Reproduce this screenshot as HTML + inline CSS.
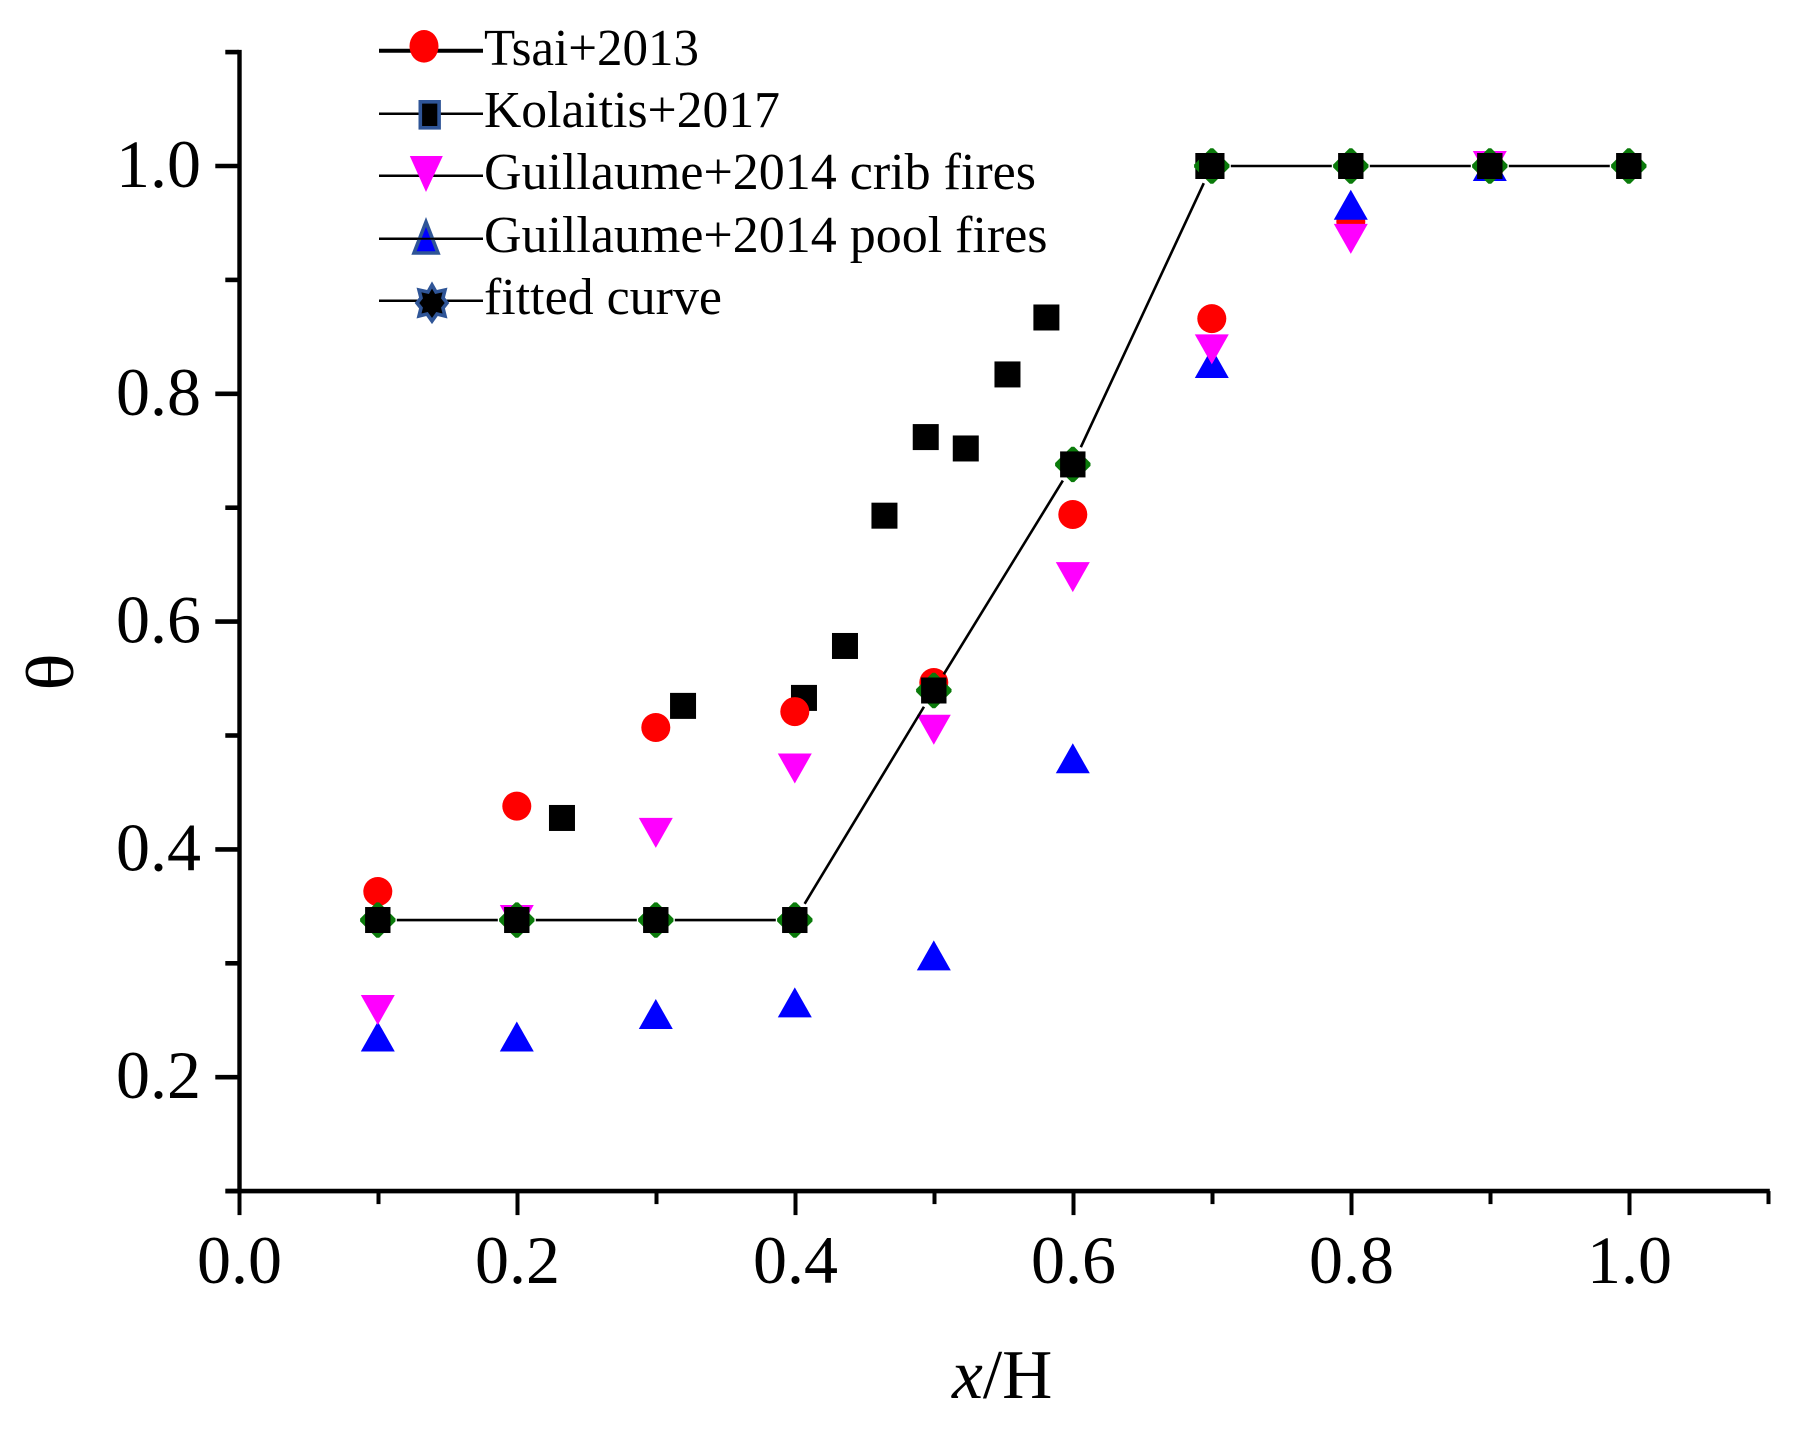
<!DOCTYPE html>
<html lang="en">
<head>
<meta charset="utf-8">
<title>Theta vs x/H chart</title>
<style>
html,body{margin:0;padding:0;background:#fff;}
svg{display:block;}
text{font-family:"Liberation Serif","Times New Roman",serif;fill:#000;}
</style>
</head>
<body>
<svg id="chart" xmlns="http://www.w3.org/2000/svg" width="1796" height="1431" viewBox="0 0 1796 1431">
<rect x="0" y="0" width="1796" height="1431" fill="#fff"/>
<g id="series"></g>
<g id="axes"></g>
<text x="952" y="1398" font-size="69.5"><tspan font-style="italic">x</tspan>/H</text>
<text x="0" y="0" font-size="68" text-anchor="middle" transform="translate(73,672) rotate(-90) scale(1.15,1)">θ</text>
<g id="legend">
  <g>
    <line x1="379" y1="50.7" x2="483" y2="50.7" stroke="#000" stroke-width="4"/>
    <ellipse cx="424" cy="46.3" rx="14.5" ry="16.3" fill="#ff0000"/>
    <text x="484" y="65" font-size="52" textLength="215" lengthAdjust="spacingAndGlyphs">Tsai+2013</text>
  </g>
  <g>
    <line x1="379" y1="113.7" x2="483" y2="113.7" stroke="#000" stroke-width="2.5"/>
    <rect x="420.3" y="101.8" width="18.8" height="26" fill="#000" stroke="#2f5597" stroke-width="3.6"/>
    <text x="484" y="127" font-size="52" textLength="296" lengthAdjust="spacingAndGlyphs">Kolaitis+2017</text>
  </g>
  <g>
    <line x1="379" y1="175.7" x2="483" y2="175.7" stroke="#000" stroke-width="2.5"/>
    <polygon points="409.8,156 442.8,156 426,192" fill="#ff00ff"/>
    <text x="484" y="189" font-size="52" textLength="552" lengthAdjust="spacingAndGlyphs">Guillaume+2014 crib fires</text>
  </g>
  <g>
    <line x1="379" y1="238.7" x2="483" y2="238.7" stroke="#000" stroke-width="2.5"/>
    <polygon points="426,222 438,253 414,253" fill="#0000ff" stroke="#2f5597" stroke-width="3.6"/>
    <line x1="412" y1="238.7" x2="440" y2="238.7" stroke="#000" stroke-width="2"/>
    <text x="484" y="252" font-size="52" textLength="563.5" lengthAdjust="spacingAndGlyphs">Guillaume+2014 pool fires</text>
  </g>
  <g>
    <line x1="379" y1="300.7" x2="483" y2="300.7" stroke="#000" stroke-width="2.5"/>
    <polygon points="432,285 436,292 445,290 443,298 447,303 443,308 445,316 437,314 432,321 427,314 419,316 421,308 417,303 421,298 419,290 428,292" fill="#000" stroke="#2f5597" stroke-width="3.6"/>
    <text x="484" y="314" font-size="52" textLength="238" lengthAdjust="spacingAndGlyphs">fitted curve</text>
  </g>
</g>
</svg>
<script>
const xTickValues = [0, 0.2, 0.4, 0.6, 0.8, 1.0];
const xTickLabels = ['0.0', '0.2', '0.4', '0.6', '0.8', '1.0'];
const xMinorValues = [0.1, 0.3, 0.5, 0.7, 0.9, 1.1];
const yTickValues = [0.2, 0.4, 0.6, 0.8, 1.0];
const yTickLabels = ['0.2', '0.4', '0.6', '0.8', '1.0'];
const yMinorValues = [0.1, 0.3, 0.5, 0.7, 0.9, 1.1];

const gridX = [0.1, 0.2, 0.3, 0.4, 0.5, 0.6, 0.7, 0.8, 0.9, 1.0];
const tsaiY = [0.363, 0.438, 0.507, 0.521, 0.5465, 0.694, 0.866, 0.951, 1.0];
const cribY = [0.259, 0.338, 0.4145, 0.471, 0.505, 0.639, 0.839, 0.936, 1.0];
const poolY = [0.2357, 0.2357, 0.2555, 0.2657, 0.307, 0.48, 0.827, 0.966, 1.0];
const fittedY = [0.338, 0.338, 0.338, 0.338, 0.5395, 0.738, 1.0, 1.0, 1.0, 1.0];
const kolaitisX = [0.2325, 0.3196, 0.4066, 0.4361, 0.4645, 0.4942, 0.523, 0.553, 0.581, 0.6975];
const kolaitisY = [0.4276, 0.526, 0.533, 0.5786, 0.693, 0.762, 0.752, 0.817, 0.867, 1.0];

const SVG_NS = 'http://www.w3.org/2000/svg';
function sx(v) { return 238.8 + 1390 * v; }
function sy(v) { return 166 + (1 - v) * 1139; }
function mk(parent, tag, attrs) {
  const el = document.createElementNS(SVG_NS, tag);
  for (const k in attrs) el.setAttribute(k, attrs[k]);
  parent.appendChild(el);
  return el;
}

const seriesG = document.getElementById('series');
const axesG = document.getElementById('axes');

/* Kolaitis squares */
kolaitisX.forEach(function (xv, i) {
  const el = mk(seriesG, 'rect', { x: sx(xv) - 13, y: sy(kolaitisY[i]) - 13, width: 26, height: 26, fill: '#000' });
  
  
});

/* Tsai circles */
tsaiY.forEach(function (yv, i) {
  const el = mk(seriesG, 'circle', { cx: sx(gridX[i]), cy: sy(yv), r: 14.5, fill: '#ff0000' });
  
  
});

/* Pool fire triangles */
poolY.forEach(function (yv, i) {
  const cx = sx(gridX[i]), cy = sy(yv);
  const el = mk(seriesG, 'polygon', { points: (cx) + ',' + (cy - 15) + ' ' + (cx + 17) + ',' + (cy + 15) + ' ' + (cx - 17) + ',' + (cy + 15), fill: '#0000ff' });
  
  
});

/* Crib fire triangles */
cribY.forEach(function (yv, i) {
  const cx = sx(gridX[i]), cy = sy(yv);
  const el = mk(seriesG, 'polygon', { points: (cx - 17) + ',' + (cy - 15) + ' ' + (cx + 17) + ',' + (cy - 15) + ' ' + (cx) + ',' + (cy + 15), fill: '#ff00ff' });
  
  
});

/* Fitted line segments with gaps around markers */
for (let i = 0; i < gridX.length - 1; i++) {
  const x1 = sx(gridX[i]), y1 = sy(fittedY[i]), x2 = sx(gridX[i + 1]), y2 = sy(fittedY[i + 1]);
  const len = Math.hypot(x2 - x1, y2 - y1);
  const ux = (x2 - x1) / len, uy = (y2 - y1) / len;
  const gap = 19;
  const el = mk(seriesG, 'line', { x1: x1 + ux * gap, y1: y1 + uy * gap, x2: x2 - ux * gap, y2: y2 - uy * gap, stroke: '#000', 'stroke-width': 2.6 });
  
  
}

/* Fitted markers: blunt green diamond with black square on top */
gridX.forEach(function (xv, i) {
  const cx = sx(xv), cy = sy(fittedY[i]);
  const a = 17.7, b = 1.4;
  const pts = [[-b, -a], [b, -a], [a, -b], [a, b], [b, a], [-b, a], [-a, b], [-a, -b]]
    .map(function (p) { return (cx + p[0]) + ',' + (cy + p[1]); }).join(' ');
  const d = mk(seriesG, 'polygon', { points: pts, fill: '#0a7a0a' });
  
  
  const s = mk(seriesG, 'rect', { x: cx - 12.7, y: cy - 13, width: 25.4, height: 26, fill: '#000' });
  
  
});

/* Axis lines */
const yAxisLine = mk(axesG, 'line', { x1: sx(0) + 0.7, y1: sy(1.1) - 2.2, x2: sx(0) + 0.7, y2: sy(0.1) + 2.3, stroke: '#000', 'stroke-width': 4.4 });


const xAxisLine = mk(axesG, 'line', { x1: 225.5, y1: sy(0.1), x2: sx(1.1) + 2, y2: sy(0.1), stroke: '#000', 'stroke-width': 4.6 });



/* X ticks */
xTickValues.forEach(function (v, i) {
  const t = mk(axesG, 'line', { x1: sx(v) + 0.7, y1: sy(0.1), x2: sx(v) + 0.7, y2: sy(0.1) + 24, stroke: '#000', 'stroke-width': 4 });
  
  
  const lab = mk(axesG, 'text', { x: sx(v) + 0.7, y: 1283, 'font-size': 68, 'text-anchor': 'middle' });
  lab.textContent = xTickLabels[i];
  
  
});
xMinorValues.forEach(function (v) {
  const t = mk(axesG, 'line', { x1: sx(v) + 0.7, y1: sy(0.1), x2: sx(v) + 0.7, y2: sy(0.1) + 13, stroke: '#000', 'stroke-width': 4 });
  
  
});

/* Y ticks */
yTickValues.forEach(function (v, i) {
  const t = mk(axesG, 'line', { x1: 215.3, y1: sy(v), x2: sx(0), y2: sy(v), stroke: '#000', 'stroke-width': 4.6 });
  
  
  const lab = mk(axesG, 'text', { x: 201, y: sy(v) + 21, 'font-size': 68, 'text-anchor': 'end' });
  lab.textContent = yTickLabels[i];
  
  
});
yMinorValues.forEach(function (v) {
  const t = mk(axesG, 'line', { x1: 225.3, y1: sy(v), x2: sx(0), y2: sy(v), stroke: '#000', 'stroke-width': 4.6 });
  
  
});
</script>
</body>
</html>
